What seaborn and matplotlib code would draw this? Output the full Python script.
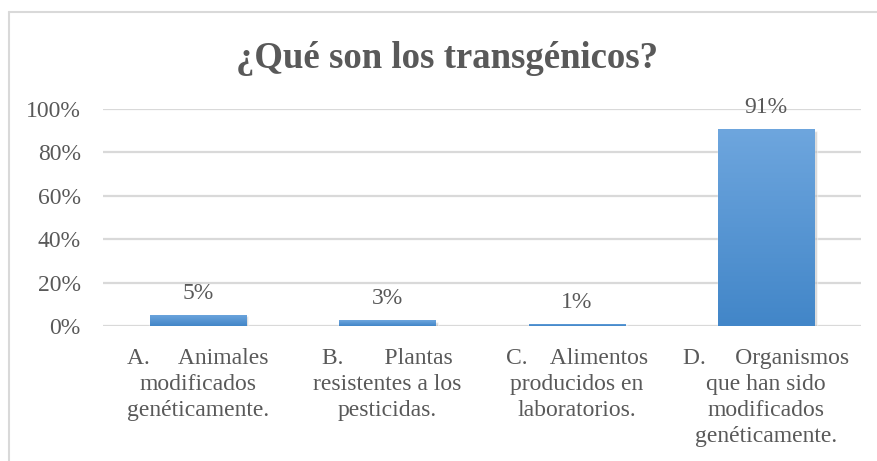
import matplotlib.pyplot as plt
import seaborn as sns
import pandas as pd
import numpy as np
from matplotlib.lines import Line2D
from matplotlib.colors import LinearSegmentedColormap

# Data
categories = [
    "A.     Animales\nmodificados\ngenéticamente.",
    "B.       Plantas\nresistentes a los\npesticidas.",
    "C.    Alimentos\nproducidos en\nlaboratorios.",
    "D.     Organismos\nque han sido\nmodificados\ngenéticamente.",
]
values = [5.2, 2.6, 1.1, 90.8]
value_labels = ["5%", "3%", "1%", "91%"]
yticks = [0, 20, 40, 60, 80, 100]
title = "¿Qué son los transgénicos?"

sns.set_style("white")
plt.rcParams['font.family'] = ['Liberation Serif', 'DejaVu Serif']

text_color = "#595959"
grid_color = "#d9d9d9"
bar_color = "#5693d1"
grad = LinearSegmentedColormap.from_list("bar", ["#4286c8", "#6ea6de"])

df = pd.DataFrame({"cat": categories, "val": values})

fig = plt.figure(figsize=(8.78, 4.61), dpi=100)
ax = fig.add_axes([103 / 878, 135 / 461, (861 - 103) / 878, (326 - 109) / 461])

# Gridlines behind bars
for t in yticks:
    ax.axhline(t, color=grid_color, linewidth=1.6, zorder=0)

sns.barplot(data=df, x="cat", y="val", color=bar_color, width=0.507,
            saturation=1, ax=ax, zorder=3)

ax.set_xlim(-0.5, len(categories) - 0.5)
ax.set_ylim(0, 100)

# Vertical gradient fill on each bar, plus a soft shadow
for p in ax.patches:
    x0, y0 = p.get_x(), p.get_y()
    w, h = p.get_width(), p.get_height()
    ax.bar(x0 + w / 2 + 0.012, h, width=w, bottom=-0.8, color="#b0b0b0",
           alpha=0.5, zorder=2)
    im = ax.imshow(np.linspace(0, 1, 256).reshape(-1, 1), cmap=grad,
                   extent=[x0, x0 + w, y0, y0 + h], origin="lower",
                   aspect="auto", zorder=4)
    im.set_clip_path(p)
ax.set_xlim(-0.5, len(categories) - 0.5)
ax.set_ylim(0, 100)

# Value labels above bars
for i, (v, lab) in enumerate(zip(values, value_labels)):
    ax.annotate(lab, (i, v), xytext=(0, 8), textcoords="offset points",
                ha="center", va="bottom", fontsize=17, color=text_color)

ax.set_yticks(yticks)
ax.set_yticklabels([f"{t}%" for t in yticks], fontsize=17, color=text_color)
ax.set_xticks(range(len(categories)))
ax.set_xticklabels(categories, fontsize=17, color=text_color, linespacing=1.3,
                   va="top")
ax.tick_params(axis="x", length=0, pad=16)
ax.tick_params(axis="y", length=0, pad=16)
ax.set_xlabel("")
ax.set_ylabel("")
for s in ax.spines.values():
    s.set_visible(False)

# Title
fig.text(447 / 878, 1 - 68 / 461, title, ha="center", va="baseline",
         fontsize=26.5, fontweight="bold", color=text_color)

# Chart frame (left and top edges visible)
fig.add_artist(Line2D([9 / 878, 9 / 878], [0, 1 - 12 / 461],
                      transform=fig.transFigure, color=grid_color, linewidth=1.5))
fig.add_artist(Line2D([9 / 878, 1], [1 - 12 / 461, 1 - 12 / 461],
                      transform=fig.transFigure, color=grid_color, linewidth=1.5))

fig.savefig("out.png", dpi=100)
plt.close()
